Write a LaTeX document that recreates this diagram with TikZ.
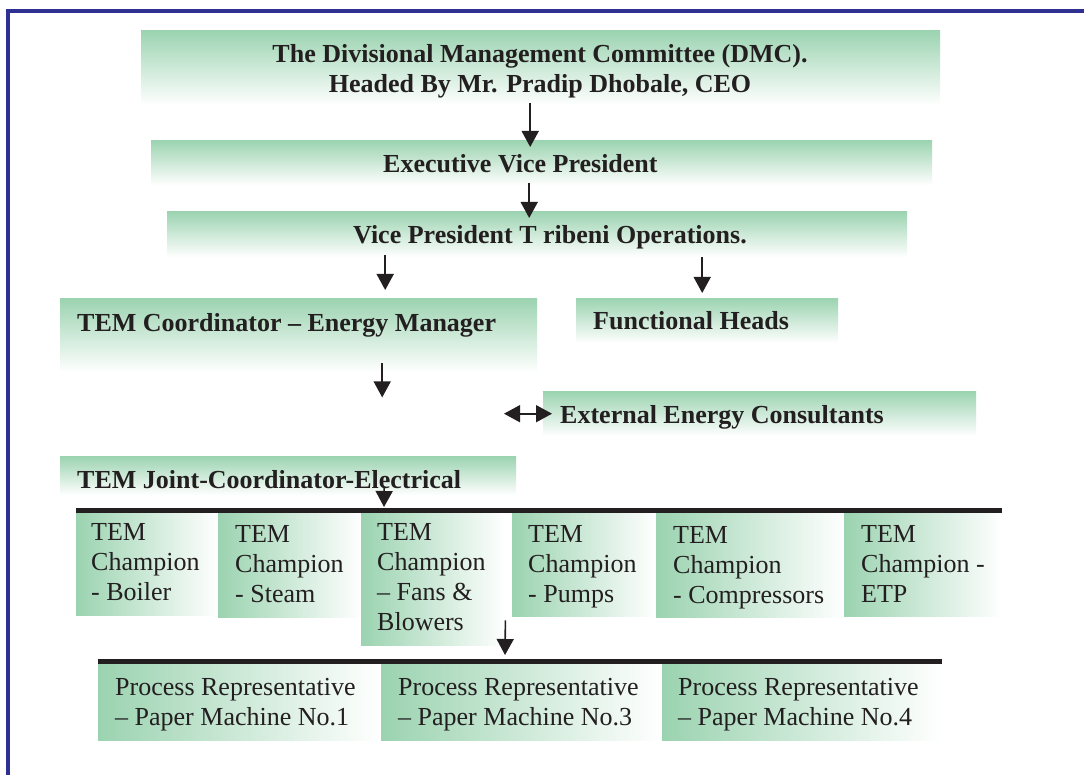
\documentclass[tikz,border=0pt]{standalone}
\usepackage{fontspec}
\setmainfont{Liberation Serif}
\usetikzlibrary{arrows.meta}
\definecolor{boxGreen}{RGB}{155,211,176}
\definecolor{frameBlue}{RGB}{46,49,146}
\definecolor{inkBlack}{RGB}{35,31,32}
\begin{document}
\begin{tikzpicture}[
    x=1pt, y=-1pt,
    vBox/.style={anchor=north west, inner sep=0pt, top color=boxGreen, bottom color=white},
    hBox/.style={anchor=north west, inner sep=0pt, left color=boxGreen, right color=white},
    headText/.style={font=\bfseries\fontsize{26}{30}\selectfont, text=inkBlack, inner sep=0pt},
    plainText/.style={font=\fontsize{26}{30}\selectfont, text=inkBlack, inner sep=0pt, align=left, anchor=base west},
    bar/.style={line width=5pt, draw=inkBlack},
    frameLine/.style={line width=4pt, draw=frameBlue},
    arr/.style={->, line width=1.6pt, draw=inkBlack},
    dblArr/.style={<->, line width=1.6pt, draw=inkBlack},
    >={Triangle[length=16pt, width=17pt]}
        ]
    \useasboundingbox (0, 0) rectangle (1084, 775);
    \fill[white] (0, 0) rectangle (1084, 775);
    \draw[frameLine] (8, 775) -- (8, 11) -- (1084, 11);

    \node[vBox, minimum width=799pt, minimum height=75pt] (dmc) at (141, 30) {};
    \node[vBox, minimum width=781pt, minimum height=45pt] (evp) at (151, 140) {};
    \node[vBox, minimum width=740pt, minimum height=46pt] (vp) at (167, 211) {};
    \node[vBox, minimum width=477pt, minimum height=74pt] (coord) at (60, 298) {};
    \node[vBox, minimum width=262pt, minimum height=45pt] (heads) at (576, 298) {};
    \node[vBox, minimum width=433pt, minimum height=45pt] (consult) at (543, 391) {};
    \node[vBox, minimum width=456pt, minimum height=39pt] (joint) at (60, 456) {};

    \node[hBox, minimum width=142pt, minimum height=102pt] (boiler) at (76, 513) {};
    \node[hBox, minimum width=143pt, minimum height=104pt] (steam) at (218, 513) {};
    \node[hBox, minimum width=144pt, minimum height=132pt] (fans) at (361, 513) {};
    \node[hBox, minimum width=144pt, minimum height=103pt] (pumps) at (512, 513) {};
    \node[hBox, minimum width=188pt, minimum height=104pt] (compr) at (656, 513) {};
    \node[hBox, minimum width=158pt, minimum height=103pt] (etp) at (844, 513) {};

    \node[hBox, minimum width=283pt, minimum height=76pt] (proc1) at (98, 664) {};
    \node[hBox, minimum width=281pt, minimum height=76pt] (proc3) at (381, 664) {};
    \node[hBox, minimum width=280pt, minimum height=76pt] (proc4) at (662, 664) {};

    \draw[bar] ([yshift=2.5pt]boiler.north west) -- ([yshift=2.5pt]etp.north east);
    \draw[bar] ([yshift=2.5pt]proc1.north west) -- ([yshift=2.5pt]proc4.north east);

    \node[headText, align=center, anchor=base] (dmcText) at (540, 93) {The Divisional Management Committee (DMC).\\Headed By Mr. Pradip Dhobale, CEO};
    \node[headText, anchor=base west] (evpText) at (383, 173) {Executive Vice President};
    \node[headText, anchor=base west] (vpText) at (353, 244) {Vice President T ribeni Operations.};
    \node[headText, anchor=base west] (coordText) at (77, 332) {TEM Coordinator – Energy Manager};
    \node[headText, anchor=base west] (headsText) at (593, 330) {Functional Heads};
    \node[headText, anchor=base west] (consultText) at (560, 423) {External Energy Consultants};
    \node[headText, anchor=base west] (jointText) at (77, 488) {TEM Joint-Coordinator-Electrical};

    \node[plainText] (boilerText) at (91, 600) {TEM\\Champion\\- Boiler};
    \node[plainText] (steamText) at (235, 602) {TEM\\Champion\\- Steam};
    \node[plainText] (fansText) at (377, 630) {TEM\\Champion\\– Fans \&\\Blowers};
    \node[plainText] (pumpsText) at (528, 602) {TEM\\Champion\\- Pumps};
    \node[plainText] (comprText) at (673, 603) {TEM\\Champion\\- Compressors};
    \node[plainText] (etpText) at (861, 602) {TEM\\Champion -\\ETP};

    \node[plainText] (proc1Text) at (115, 725) {Process Representative\\– Paper Machine No.1};
    \node[plainText] (proc3Text) at (398, 725) {Process Representative\\– Paper Machine No.3};
    \node[plainText] (proc4Text) at (678, 725) {Process Representative\\– Paper Machine No.4};

    \draw[arr] ([xshift=-10.5pt, yshift=2pt]dmc.south) -- ([xshift=-11.5pt, yshift=-7pt]evp.north);
    \draw[arr] ([xshift=-12.5pt, yshift=2pt]evp.south) -- ([xshift=-8pt, yshift=-7pt]vp.north);
    \draw[arr] ([xshift=-152pt, yshift=2pt]vp.south) -- ([xshift=86.5pt, yshift=8pt]coord.north);
    \draw[arr] ([xshift=165pt]vp.south) -- ([xshift=-5pt, yshift=5pt]heads.north);
    \draw[arr] ([xshift=83.5pt, yshift=9pt]coord.south) -- ++(0, 34);
    \draw[dblArr] ([xshift=9pt]consult.west) -- ++(-48, 0);
    \draw[arr] ([xshift=96pt, yshift=9pt]joint.south) -- ([xshift=23pt, yshift=6pt]fans.north west);
    \draw[arr] ([yshift=25pt]fans.south east) -- ([xshift=124pt, yshift=9pt]proc3.north west);
\end{tikzpicture}
\end{document}
